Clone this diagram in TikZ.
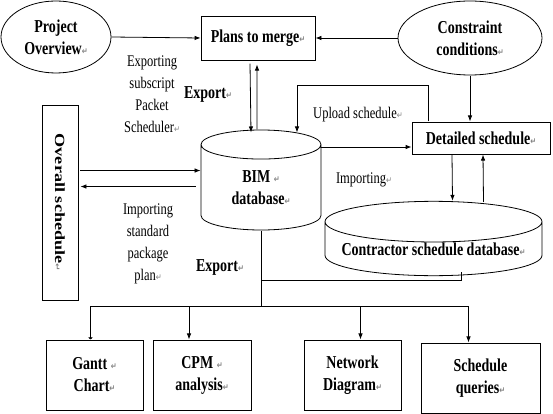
\documentclass[tikz,border=0pt]{standalone}
\usepackage{fontspec}
\setmainfont{Liberation Serif}
\newfontfamily\markfont{DejaVu Sans}
\usepackage{tikz}
\usetikzlibrary{calc, shapes.geometric, arrows.meta}
\newcommand{\pmark}{{\markfont\fontsize{7}{7}\selectfont\textcolor{gray}{↵}}}

\begin{document}
\begin{tikzpicture}[x=1pt, y=-1pt, line width=0.8pt,
		hd/.style = {font=\fontsize{14}{17}\selectfont\bfseries, align=center, yscale=1.3},
		box/.style = {draw, hd, inner sep=0pt},
		oval/.style = {draw, ellipse, hd, inner sep=0pt},
		drum/.style = {draw, cylinder, shape border rotate=90, hd, inner sep=0pt, anchor=shape center},
		lab/.style = {font=\fontsize{12.5}{17}\selectfont, align=center, yscale=1.3},
		arr/.style = {-{Latex[length=6pt, width=4.5pt]}},
		flat/.style = {-{Latex[length=2pt, width=5pt]}}]
		\def\sy{1.3}
		\useasboundingbox (0,0) rectangle (553,414);
		
		\begin{scope}
			\node [oval, minimum width=110pt, minimum height=72pt/\sy] (proj) at (56,37) {Project\\Overview\pmark};
			\node [box, minimum width=114pt, minimum height=44pt/\sy] (plans) at (258,38) {Plans to merge\pmark};
			\node [oval, minimum width=144pt, minimum height=74pt/\sy] (cons) at (470,38) {Constraint\\conditions\pmark};
			\node [box, minimum width=138pt, minimum height=32pt/\sy] (detail) at (481,138) {Detailed schedule\pmark};
			\node [drum, minimum width=120pt, minimum height=100pt/\sy, aspect=0.38] (BIM) at (261,180) {BIM \pmark\\database\pmark};
			\node [drum, minimum width=217pt, minimum height=71pt/\sy, aspect=0.17] (contr) at (433.5,238.5) {Contractor schedule database\pmark};
			\node [box, rotate=-90, minimum width=195pt/\sy, minimum height=36pt] (overall) at (60,202.5) {Overall schedule\pmark};
		\end{scope}
		
		\begin{scope}
			\node [box, minimum width=97pt, minimum height=70pt/\sy] (gantt) at (94.5,375) {Gantt \pmark\\Chart\pmark};
			\node [box, minimum width=98pt, minimum height=70pt/\sy] (cpm) at (202,375) {CPM \pmark\\analysis\pmark};
			\node [box, minimum width=97pt, minimum height=70pt/\sy] (network) at (352.5,375) {Network\\Diagram\pmark};
			\node [box, minimum width=119pt, minimum height=70pt/\sy] (query) at (480.5,378) {Schedule\\queries\pmark};
		\end{scope}
		
		\begin{scope}
			\node [lab] (expsub) at (152,94) {Exporting\\subscript\\Packet\\Scheduler\pmark};
			\node [hd] (export1) at (208,94) {Export\pmark};
			\node [lab] (impstd) at (148,243.5) {Importing\\standard\\package\\plan\pmark};
			\node [hd] (export2) at (220,267) {Export\pmark};
			\node [lab] (upload) at (358,115) {Upload schedule\pmark};
			\node [lab] (importing) at (364,180) {Importing\pmark};
		\end{scope}
		
		\begin{scope}
			\draw [arr] (proj.east) -- (plans.west);
			\draw [arr] (cons.west) -- (plans.east);
			\draw [arr] ($(plans.south)+(-8,3)$) -- ($(BIM.north)+(-10,3)$);
			\draw [arr] ($(BIM.north)+(-4,0)$) -- ($(plans.south)+(-1,4)$);
			\draw [arr] (cons.south) -- (cons.south |- detail.north);
			
			\coordinate (up) at ($(BIM.north)+(36,-44)$);
			\coordinate (uptip) at ($(BIM.north)+(36,3)$);
			\draw [arr] ($(detail.north west)+(17,0)$) |- (up) -- (uptip);
			
			\coordinate (imp) at ($(detail.west)+(0,9)$);
			\draw [arr] (BIM.east |- imp) -- (imp);
			
			\draw [arr] ($(overall.north |- BIM.west)+(2,-17)$) -- ($(BIM.west)+(0,-17)$);
			\draw [arr] ($(BIM.west)+(-5,-1)$) -- ($(overall.north |- BIM.west)+(2,-1)$);
			
			\draw [arr] ($(detail.south)+(-29,0)$) -- ($(contr.north)+(19,0)$);
			\draw [arr] ($(contr.north)+(50,1)$) -- ($(detail.south)+(2,0)$);
		\end{scope}
		
		\begin{scope}
			\coordinate (join) at (261,280);
			\coordinate (bus) at (261,306);
			\draw ($(contr.south)+(28,-4)$) |- (join);
			\draw (BIM.south) -- (bus);
			\draw ($(gantt.north |- bus)+(-4,0)$) -- ($(query.north |- bus)+(-12,0)$);
			\draw [flat] ($(gantt.north |- bus)+(-4,0)$) -- ($(gantt.north)+(-4,0)$);
			\foreach \n/\dx in {cpm/-13, network/8, query/-12}
				\draw [arr] ($(\n.north |- bus)+(\dx,0)$) -- ($(\n.north)+(\dx,0)$);
		\end{scope}
	\end{tikzpicture}
\end{document}
